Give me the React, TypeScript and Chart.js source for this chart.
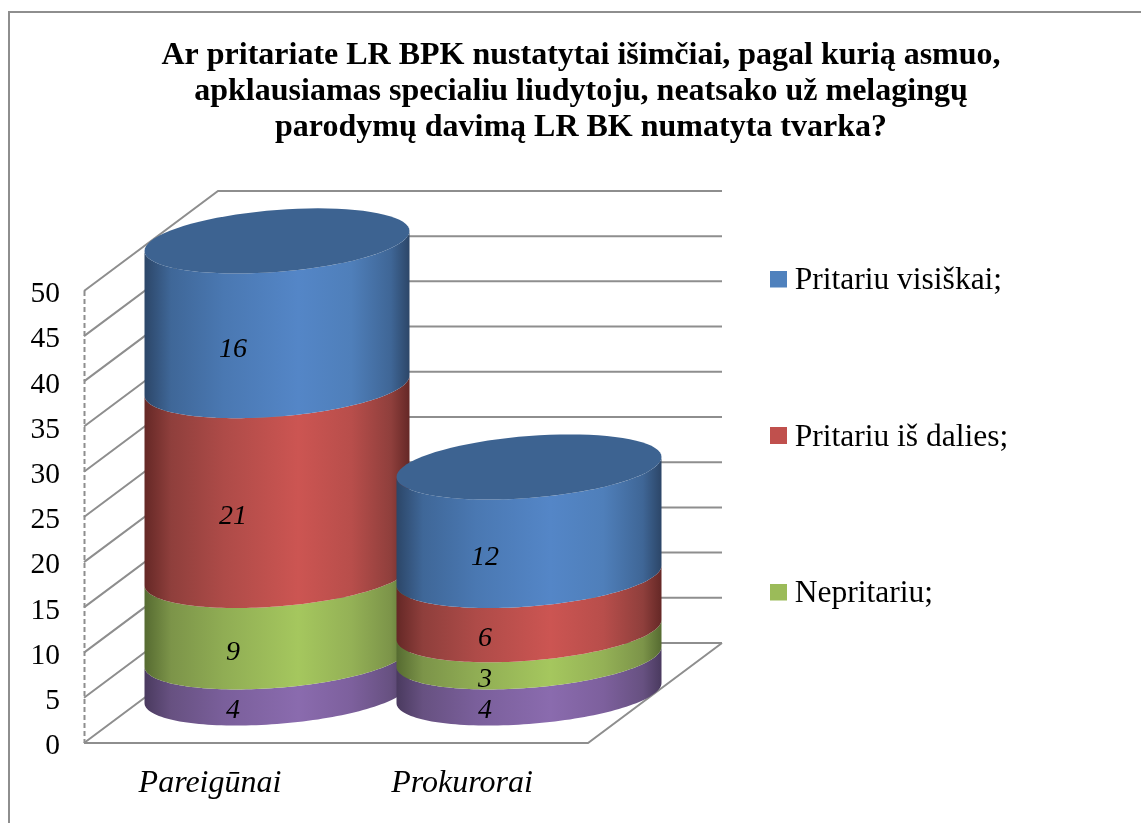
import React, { useEffect, useRef } from "react";
import { Chart, registerables } from "chart.js";

Chart.register(...registerables);

const categories = ["Pareigūnai", "Prokurorai"];
const titleLines = [
  "Ar pritariate LR BPK nustatytai išimčiai, pagal kurią asmuo,",
  "apklausiamas specialiu liudytoju, neatsako už melagingų",
  "parodymų davimą LR BK numatyta tvarka?",
];
const unnamedValues = [4, 4];
const nepritariuValues = [9, 3];
const isDaliesValues = [21, 6];
const visiskaiValues = [16, 12];

const FONT = '"Liberation Serif", "Times New Roman", serif';
const LINE = "#8e8e8e";
const DEPTH_X = 134;
const DEPTH_Y = 100;
const RY = 31;
const SHEAR = 10;

const shades: Record<string, string[]> = {
  "#4f81bd": ["#2c4668", "#3f6798", "#4a78b2", "#5486c7", "#4f7fba", "#3f6696", "#2c4668"],
  "#c0504d": ["#652826", "#8f3f3c", "#ae4b48", "#cc5552", "#b84e4b", "#8f3f3c", "#652826"],
  "#9bbb59": ["#566b31", "#7c9449", "#90ad54", "#a5c75e", "#94b156", "#7c9449", "#566b31"],
  "#8064a2": ["#4a3a5f", "#675181", "#7a5f9b", "#8a6bae", "#7d609d", "#675181", "#4a3a5f"],
};
const stops = [0, 0.1, 0.3, 0.58, 0.78, 0.93, 1];

function swatch(color: string) {
  const c = document.createElement("canvas");
  c.width = 17;
  c.height = 21;
  const g = c.getContext("2d")!;
  g.fillStyle = color;
  g.fillRect(0, 0, 17, 17);
  return c;
}

const cylinderPlugin = {
  id: "cylinders",
  afterLayout(chart: any) {
    const t = chart.titleBlock;
    t.left = 10.5;
    t.right = 1151.5;
    t.width = 1141;
    const l = chart.legend;
    l.maxHeight = 823;
    l.maxWidth = 500;
    l.fit();
    const p = l.options.labels.padding;
    l.left = 778 - p;
    l.right = 1141;
    l.top = 177 - p;
    l.bottom = 823;
  },
  beforeDraw(chart: any) {
    const { ctx } = chart;
    ctx.save();
    ctx.strokeStyle = LINE;
    ctx.lineWidth = 2;
    ctx.strokeRect(9, 12, 1300, 1000);
    ctx.restore();
  },
  beforeDatasetsDraw(chart: any) {
    const { ctx, chartArea, scales } = chart;
    const { left, right, top, bottom } = chartArea;
    ctx.save();
    ctx.strokeStyle = LINE;
    ctx.lineWidth = 2;
    ctx.beginPath();
    for (const tick of scales.y.ticks) {
      const y = scales.y.getPixelForValue(tick.value);
      ctx.moveTo(left, y);
      ctx.lineTo(left + DEPTH_X, y - DEPTH_Y);
      ctx.lineTo(right + DEPTH_X, y - DEPTH_Y);
    }
    ctx.moveTo(left, bottom);
    ctx.lineTo(right, bottom);
    ctx.lineTo(right + DEPTH_X, bottom - DEPTH_Y);
    ctx.stroke();
    ctx.setLineDash([5, 3]);
    ctx.beginPath();
    ctx.moveTo(left + 0.5, top);
    ctx.lineTo(left + 0.5, bottom);
    ctx.stroke();
    ctx.setLineDash([]);

    const metas = chart.data.datasets.map((_: any, i: number) => chart.getDatasetMeta(i));
    chart.data.labels.forEach((_: any, c: number) => {
      metas.forEach((meta: any, d: number) => {
        const el = meta.data[c];
        const rx = el.width / 2;
        const cx = el.x + DEPTH_X / 2;
        const yTop = el.y - DEPTH_Y / 2;
        const yBase = el.base - DEPTH_Y / 2;
        const arc = (cy: number, from: number, to: number, first: boolean) => {
          const n = 80;
          for (let i = 0; i <= n; i++) {
            const a = from + ((to - from) * i) / n;
            const x = cx + rx * Math.cos(a);
            const y = cy + RY * Math.sin(a) - SHEAR * Math.cos(a);
            if (i === 0 && first) ctx.moveTo(x, y);
            else ctx.lineTo(x, y);
          }
        };
        const grad = ctx.createLinearGradient(cx - rx, 0, cx + rx, 0);
        const base = chart.data.datasets[d].backgroundColor;
        shades[base].forEach((col: string, i: number) => grad.addColorStop(stops[i], col));
        ctx.fillStyle = grad;
        ctx.beginPath();
        arc(yBase, Math.PI, 0, true);
        arc(yTop, 0, Math.PI, false);
        ctx.closePath();
        ctx.fill();
        if (d === metas.length - 1) {
          ctx.fillStyle = "#3d6391";
          ctx.beginPath();
          arc(yTop, 0, Math.PI * 2, true);
          ctx.closePath();
          ctx.fill();
        }
      });
    });

    ctx.fillStyle = "#000";
    ctx.font = `italic 28px ${FONT}`;
    ctx.textAlign = "center";
    ctx.textBaseline = "middle";
    chart.data.datasets.forEach((ds: any, d: number) => {
      metas[d].data.forEach((el: any, c: number) => {
        ctx.fillText(String(ds.data[c]), el.x + 23, (el.y + el.base) / 2 - 14);
      });
    });
    ctx.restore();
    return false;
  },
};

export default function App() {
  const ref = useRef<HTMLCanvasElement>(null);
  useEffect(() => {
    document.body.style.margin = "0";
    const datasets = [
      { label: "", data: unnamedValues, backgroundColor: "#8064a2" },
      { label: "Nepritariu;", data: nepritariuValues, backgroundColor: "#9bbb59" },
      { label: "Pritariu iš dalies;", data: isDaliesValues, backgroundColor: "#c0504d" },
      { label: "Pritariu visiškai;", data: visiskaiValues, backgroundColor: "#4f81bd" },
    ].map((d) => ({ ...d, barThickness: 265 }));
    const chart = new Chart(ref.current!, {
      type: "bar",
      data: { labels: categories, datasets },
      plugins: [cylinderPlugin],
      options: {
        responsive: false,
        animation: false,
        layout: { padding: { left: 0, top: 0, bottom: 0, right: 553 } },
        plugins: {
          tooltip: { enabled: false },
          title: {
            display: true,
            text: titleLines,
            color: "#000",
            font: { family: FONT, size: 32, weight: "bold", lineHeight: 1.14 },
            padding: { top: 37, bottom: 144.5 },
          },
          legend: {
            position: "chartArea",
            reverse: true,
            labels: {
              color: "#000",
              font: { family: FONT, size: 31.5 },
              usePointStyle: true,
              pointStyleWidth: 1,
              boxHeight: 17,
              padding: 125,
              filter: (item: any) => item.text !== "",
              generateLabels: (c: any) =>
                Chart.defaults.plugins.legend.labels
                  .generateLabels(c)
                  .map((item: any) => ({
                    ...item,
                    pointStyle: swatch(c.data.datasets[item.datasetIndex].backgroundColor),
                  })),
            },
          },
        },
        scales: {
          x: {
            stacked: true,
            afterFit: (s: any) => {
              s.height = 80;
            },
            grid: { display: false, drawTicks: false },
            border: { display: false },
            ticks: {
              color: "#000",
              padding: 21,
              maxRotation: 0,
              font: { family: FONT, size: 32, style: "italic" },
            },
          },
          y: {
            stacked: true,
            min: 0,
            max: 50,
            afterFit: (s: any) => {
              s.width = 84;
            },
            grid: { display: false, drawTicks: false },
            border: { display: false },
            ticks: {
              stepSize: 5,
              color: "#000",
              padding: 24,
              labelOffset: 3.5,
              font: { family: FONT, size: 29.5 },
            },
          },
        },
      },
    } as any);
    return () => chart.destroy();
  }, []);
  return <canvas ref={ref} width={1141} height={823} style={{ display: "block" }} />;
}
